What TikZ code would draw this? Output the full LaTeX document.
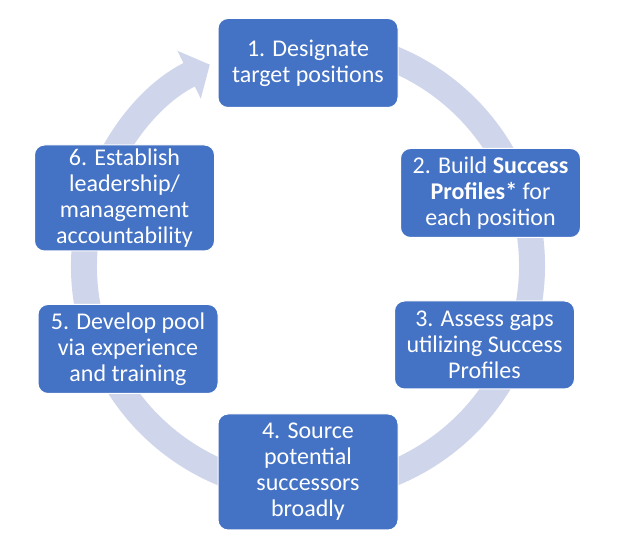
\documentclass[tikz,border=0pt]{standalone}
\usepackage{fontspec}
\setmainfont{Carlito}
\usetikzlibrary{arrows.meta}
\definecolor{boxblue}{HTML}{4472C4}
\definecolor{ringblue}{HTML}{CFD5EA}
\tikzset{
	stepbox/.style={draw=white, line width=1pt, fill=boxblue, rounded corners=10pt,
		text=white, align=center, minimum width=180pt, minimum height=89pt,
		inner sep=0pt, font=\fontsize{24}{26}\selectfont}
}
\tikzset{
	ringarrow/.style={draw=ringblue, line width=26pt, -{Triangle[length=23pt, width=52pt]}}
}

\begin{document}
\begin{tikzpicture}[x=1pt, y=1pt]
      \useasboundingbox (0,0) rectangle (622,552);
      \coordinate (ctr) at (308,286);
      % cycle arrow behind the steps
      \draw[ringarrow] ([shift={(80:224pt)}]ctr) arc[start angle=80, end angle=-244, radius=224pt];
      \node[stepbox] (s1) at (308,489) {1. Designate\\target positions};
      \node[stepbox] (s2) at (490.5,359) {2. Build \textbf{Success}\\\textbf{Profiles*} for\\each position};
      \node[stepbox, minimum height=88pt] (s3) at (484.5,207) {3. Assess gaps\\utilizing Success\\Profiles};
      \node[stepbox, minimum height=116pt] (s4) at (308,80) {4. Source\\potential\\successors\\broadly};
      \node[stepbox] (s5) at (128,203) {5. Develop pool\\via experience\\and training};
      \node[stepbox, minimum height=106pt] (s6) at (124.5,354) {6. Establish\\leadership/\\management\\accountability};
    \end{tikzpicture}
\end{document}
